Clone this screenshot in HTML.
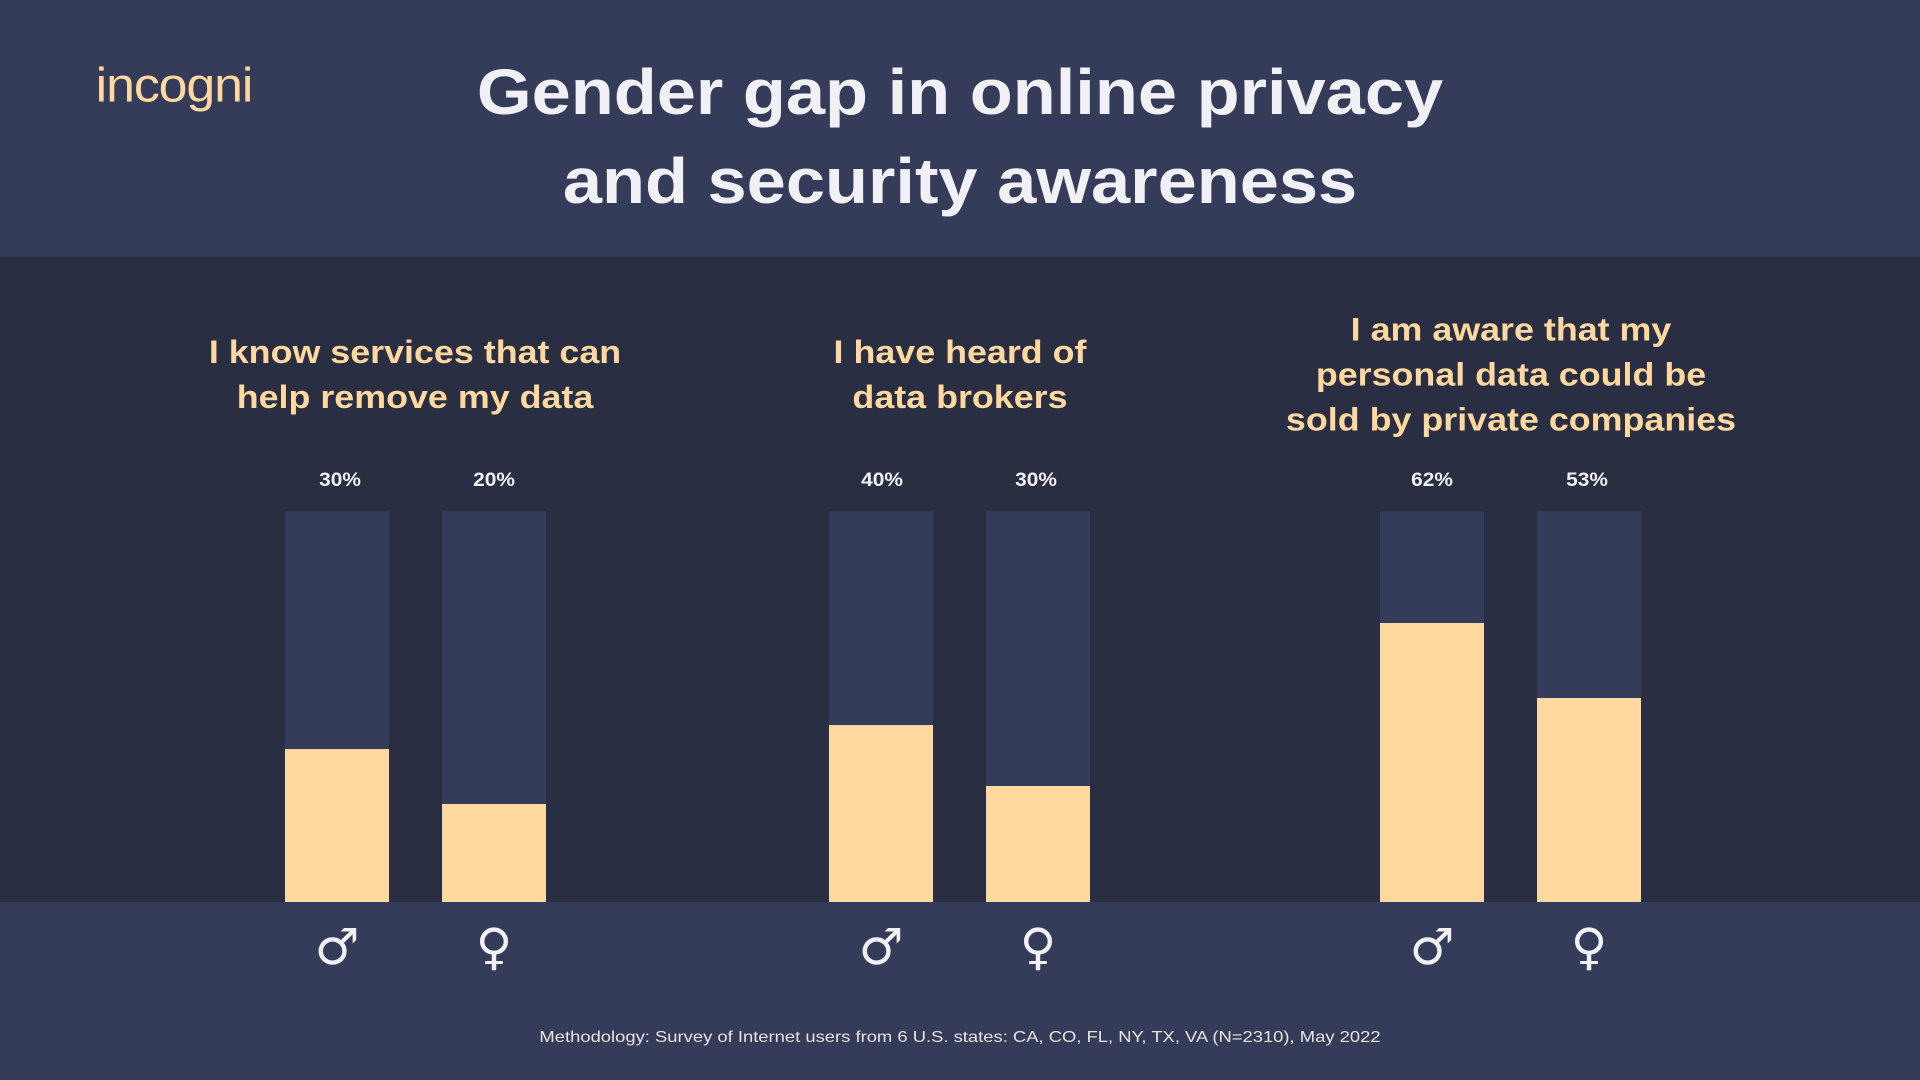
<!DOCTYPE html>
<html><head><meta charset="utf-8"><style>
body{margin:0;width:1920px;height:1080px;overflow:hidden;background:#292e43;font-family:"Liberation Sans",sans-serif;position:relative}
.band{position:absolute;left:0;width:1920px;background:#353c59}
.t{position:absolute;text-align:center;white-space:nowrap;transform:translate(-50%,-50%)}
.bar{position:absolute;top:511px;height:391px;width:104px;background:#353c59}
.fill{position:absolute;left:0;right:0;bottom:0;background:#fed89e}
.st{color:#fed89e;font-weight:bold;font-size:32px;line-height:45px;transform:translate(-50%,-50%) scaleX(1.12)}
.pc{color:#f0f0f5;font-weight:bold;font-size:19px;transform:translate(-50%,-50%) scaleX(1.1)}
.g{color:#f0f0f5;font-size:50px;font-family:"DejaVu Sans",sans-serif}
</style></head><body>
<div class="band" style="top:0;height:257px"></div>
<div class="band" style="top:902px;height:178px"></div>
<div class="t" style="left:174px;top:86px;color:#fed89e;font-size:48px;letter-spacing:-1px;transform:translate(-50%,-50%) scaleX(1.08)">incogni</div>
<div class="t" style="left:960px;top:92px;color:#f0f0f5;font-weight:bold;font-size:64px;transform:translate(-50%,-50%) scaleX(1.1)">Gender gap in online privacy</div>
<div class="t" style="left:960px;top:181px;color:#f0f0f5;font-weight:bold;font-size:64px;transform:translate(-50%,-50%) scaleX(1.1)">and security awareness</div>
<div class="t st" style="left:415px;top:375px">I know services that can<br>help remove my data</div>
<div class="t st" style="left:960px;top:375px">I have heard of<br>data brokers</div>
<div class="t st" style="left:1511px;top:375px">I am aware that my<br>personal data could be<br>sold by private companies</div>
<div class="bar" style="left:285px"><div class="fill" style="height:153px"></div></div>
<div class="bar" style="left:442px"><div class="fill" style="height:98px"></div></div>
<div class="bar" style="left:829px"><div class="fill" style="height:177px"></div></div>
<div class="bar" style="left:986px"><div class="fill" style="height:116px"></div></div>
<div class="bar" style="left:1380px"><div class="fill" style="height:279px"></div></div>
<div class="bar" style="left:1537px"><div class="fill" style="height:204px"></div></div>
<div class="t pc" style="left:340px;top:481px">30%</div>
<div class="t pc" style="left:494px;top:481px">20%</div>
<div class="t pc" style="left:882px;top:481px">40%</div>
<div class="t pc" style="left:1036px;top:481px">30%</div>
<div class="t pc" style="left:1432px;top:481px">62%</div>
<div class="t pc" style="left:1587px;top:481px">53%</div>
<div class="t g" style="left:337px;top:947px">♂</div>
<div class="t g" style="left:494px;top:947px">♀</div>
<div class="t g" style="left:881px;top:947px">♂</div>
<div class="t g" style="left:1038px;top:947px">♀</div>
<div class="t g" style="left:1432px;top:947px">♂</div>
<div class="t g" style="left:1589px;top:947px">♀</div>
<div class="t" style="left:960px;top:1038px;color:#e8e4dc;font-size:16px;transform:translate(-50%,-50%) scaleX(1.15)">Methodology: Survey of Internet users from 6 U.S. states: CA, CO, FL, NY, TX, VA (N=2310), May 2022</div>
</body></html>
